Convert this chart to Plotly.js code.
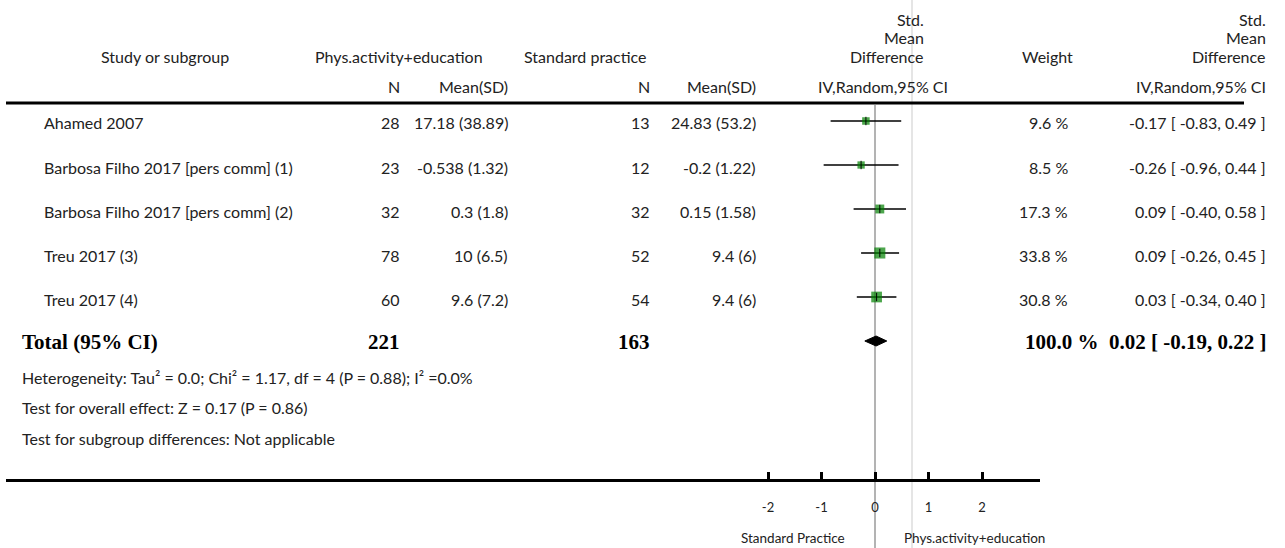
<!DOCTYPE html>
<html>
<head>
<meta charset="utf-8">
<script src="https://cdn.plot.ly/plotly-3.0.1.min.js"></script>
<style>html,body{margin:0;padding:0;background:#fff;}#chart{width:1285px;height:548px;}</style>
</head>
<body>
<div id="chart"></div>
<script>
// ---- data ----
const studies = ["Ahamed 2007", "Barbosa Filho 2017 [pers comm] (1)", "Barbosa Filho 2017 [pers comm] (2)", "Treu 2017 (3)", "Treu 2017 (4)"];
const expN = [28, 23, 32, 78, 60];
const expMeanSD = ["17.18 (38.89)", "-0.538 (1.32)", "0.3 (1.8)", "10 (6.5)", "9.6 (7.2)"];
const ctrlN = [13, 12, 32, 52, 54];
const ctrlMeanSD = ["24.83 (53.2)", "-0.2 (1.22)", "0.15 (1.58)", "9.4 (6)", "9.4 (6)"];
const weights = [9.6, 8.5, 17.3, 33.8, 30.8];
const smd = [-0.17, -0.26, 0.09, 0.09, 0.03];
const ciLow = [-0.83, -0.96, -0.40, -0.26, -0.34];
const ciHigh = [0.49, 0.44, 0.58, 0.45, 0.40];
const totalExpN = 221;
const totalCtrlN = 163;
const totalWeight = 100.0;
const totalSmd = 0.02;
const totalLow = -0.19;
const totalHigh = 0.22;
const axisTicks = [-2, -1, 0, 1, 2];
const axisTickText = ["-2", "-1", "0", "1", "2"];
const heterogeneity = "Heterogeneity: Tau² = 0.0; Chi² = 1.17, df = 4 (P = 0.88); I² =0.0%";
const overallEffect = "Test for overall effect: Z = 0.17 (P = 0.86)";
const subgroupDiff = "Test for subgroup differences: Not applicable";
const leftLabel = "Standard Practice";
const rightLabel = "Phys.activity+education";

// ---- layout geometry ----
const W = 1285, H = 548;
const X0 = 875, PXU = 53.5;           // pixel of 0 and pixels per unit
const ROW0 = 121, ROWH = 44;          // pixel of first row, row spacing
const rowOf = p => (p - ROW0) / ROWH;
const px = x => x / W;
const py = y => 1 - y / H;
const TOTAL_ROW = 5;

const FONT = "Lato, 'Open Sans', sans-serif";
const SERIF = "'Liberation Serif', 'DejaVu Serif', serif";
const TXT = "#222";
const FS = 16;

const rows = studies.map((_, i) => i);

const traces = [];
// CI lines via error bars + squares
traces.push({
  type: "scatter", mode: "markers", x: smd, y: rows,
  marker: {symbol: "square", color: "#008000", size: weights.map(w => 3.5 + 1.3 * Math.sqrt(w)), line: {width: 0}},
  error_x: {type: "data", symmetric: false,
            array: smd.map((v, i) => ciHigh[i] - v),
            arrayminus: smd.map((v, i) => v - ciLow[i]),
            color: "#000", thickness: 1.3, width: 0},
  hoverinfo: "skip", showlegend: false
});
// small vertical centre ticks
traces.push({
  type: "scatter", mode: "markers", x: smd, y: rows,
  marker: {symbol: "line-ns", size: 6, line: {color: "#000", width: 1}},
  hoverinfo: "skip", showlegend: false
});
// total diamond
const dh = 5 / ROWH;
traces.push({
  type: "scatter", mode: "lines", fill: "toself", fillcolor: "#000",
  x: [totalLow, totalSmd, totalHigh, totalSmd, totalLow],
  y: [TOTAL_ROW, TOTAL_ROW - dh, TOTAL_ROW, TOTAL_ROW + dh, TOTAL_ROW],
  line: {color: "#000", width: 1}, hoverinfo: "skip", showlegend: false
});
// invisible trace to host the bottom axis
traces.push({type: "scatter", mode: "markers", x: [0], y: [0], xaxis: "x2", yaxis: "y",
  marker: {opacity: 0}, hoverinfo: "skip", showlegend: false});

const ann = [];
function txt(text, x, y, anchor, opts) {
  opts = opts || {};
  ann.push(Object.assign({
    text: text, xref: "paper", yref: "paper", x: px(x), y: py(y),
    xanchor: anchor, yanchor: "middle", showarrow: false,
    font: {family: FONT, size: FS, color: TXT}, align: anchor === "right" ? "right" : (anchor === "left" ? "left" : "center")
  }, opts));
}
// header
txt("Study or subgroup", 165, 57, "center");
txt("Phys.activity+education", 399, 57, "center");
txt("Standard practice", 585, 57, "center");
txt("N", 402, 87, "right");
txt("Mean(SD)", 510, 87, "right");
txt("N", 652, 87, "right");
txt("Mean(SD)", 758, 87, "right");
txt("Std.", 926, 20, "right");
txt("Mean", 926, 38, "right");
txt("Difference", 926, 57, "right");
txt("IV,Random,95% CI", 950, 87, "right");
txt("Weight", 1047, 57, "center");
txt("Std.", 1268, 20, "right");
txt("Mean", 1268, 38, "right");
txt("Difference", 1268, 57, "right");
txt("IV,Random,95% CI", 1268, 87, "right");

// study rows
studies.forEach((s, i) => {
  const y = ROW0 + ROWH * i + 2;
  txt(s, 42, y, "left");
  txt(String(expN[i]), 402, y, "right");
  txt(expMeanSD[i], 510, y, "right");
  txt(String(ctrlN[i]), 652, y, "right");
  txt(ctrlMeanSD[i], 758, y, "right");
  txt(weights[i].toFixed(1) + " %", 1070, y, "right");
  txt(smd[i].toFixed(2) + " [ " + ciLow[i].toFixed(2) + ", " + ciHigh[i].toFixed(2) + " ]", 1268, y, "right");
});

// total row
const ty = ROW0 + ROWH * TOTAL_ROW + 1;
const bold = {family: SERIF, size: 21, color: "#000"};
txt("<b>Total (95% CI)</b>", 20, ty, "left", {font: bold});
txt("<b>" + totalExpN + "</b>", 402, ty, "right", {font: bold});
txt("<b>" + totalCtrlN + "</b>", 652, ty, "right", {font: bold});
txt("<b>" + totalWeight.toFixed(1) + " %  " + totalSmd.toFixed(2) + " [ " + totalLow.toFixed(2) + ", " + totalHigh.toFixed(2) + " ]</b>", 1268, ty, "right", {font: bold});

// footer
const ffont = {family: FONT, size: 16, color: TXT};
txt(heterogeneity, 20, 377, "left", {font: ffont});
txt(overallEffect, 20, 407, "left", {font: ffont});
txt(subgroupDiff, 20, 438, "left", {font: ffont});

// axis side labels
const lfont = {family: FONT, size: 13.5, color: TXT};
txt(leftLabel, 847, 538, "right", {font: lfont});
txt(rightLabel, 902, 538, "left", {font: lfont});

const axL = 6, axR = 1040;
const layout = {
  width: W, height: H,
  margin: {l: 0, r: 0, t: 0, b: 0, pad: 0},
  paper_bgcolor: "#fff", plot_bgcolor: "rgba(0,0,0,0)",
  showlegend: false,
  xaxis: {domain: [0, 1], range: [(0 - X0) / PXU, (W - X0) / PXU], visible: false, fixedrange: true},
  xaxis2: {domain: [px(axL), px(axR)], range: [(axL - X0) / PXU, (axR - X0) / PXU],
    anchor: "free", position: py(480), showline: true, linecolor: "#000", linewidth: 3,
    ticks: "inside", ticklen: 7, tickwidth: 3, tickcolor: "#000",
    tickvals: axisTicks, ticktext: axisTickText, ticklabelstandoff: 14,
    tickfont: {family: FONT, size: 13, color: TXT}, showgrid: false, zeroline: false, fixedrange: true},
  yaxis: {domain: [0, 1], range: [rowOf(H), rowOf(0)], visible: false, fixedrange: true},
  shapes: [
    {type: "line", xref: "paper", yref: "paper", x0: px(912), x1: px(912), y0: 0, y1: 1,
     line: {color: "#dddddd", width: 1.5}, layer: "below"},
    {type: "line", xref: "x", yref: "paper", x0: 0, x1: 0, y0: py(105), y1: 0,
     line: {color: "#b3b3b3", width: 2}, layer: "below"},
    {type: "line", xref: "paper", yref: "paper", x0: px(6), x1: px(1244), y0: py(103), y1: py(103),
     line: {color: "#000", width: 3}}
  ],
  annotations: ann
};

Plotly.newPlot("chart", traces, layout, {displayModeBar: false, staticPlot: true});
</script>
</body>
</html>
